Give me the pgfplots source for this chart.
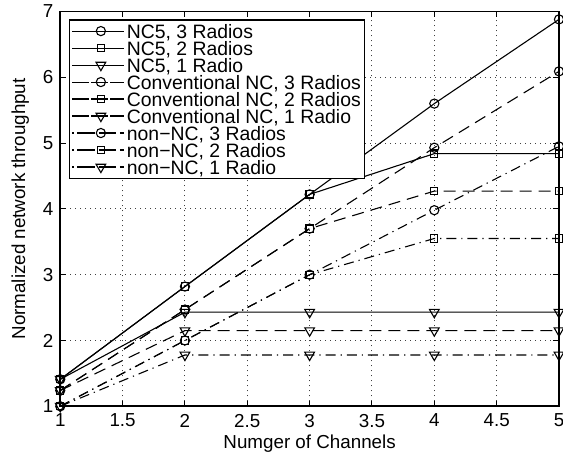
\documentclass[border=0pt]{standalone}
\usepackage{fontspec}
\setmainfont{Liberation Sans}
\usepackage{pgfplots}
\pgfplotsset{compat=1.18}
\usetikzlibrary{calc}
\begin{document}
\begin{tikzpicture}
\begin{axis}[name=ax, scale only axis, width=249.5pt, height=197.5pt,
  xmin=1, xmax=5, ymin=1, ymax=7,
  xtick={1,1.5,2,2.5,3,3.5,4,4.5,5}, ytick={1,2,3,4,5,6,7},
  xticklabels={1,1.5,2,2.5,3,3.5,4,4.5,5},
  /pgf/number format/assume math mode=true,
  tick label style={font=\fontsize{9.4}{10}\selectfont},
  label style={font=\fontsize{9.4}{10}\selectfont},
  xlabel={Numger of Channels}, ylabel={Normalized network throughput},
  xticklabel style={yshift=-0.3pt},
  xlabel style={yshift=2.8pt},
  major tick length=2.8pt, tick style={black, line width=0.5pt},
  axis line style={line width=0.8pt},
  grid=major, grid style={black!75, line width=0.5pt, dash pattern=on 0.5pt off 2pt},
  legend cell align=left,
  legend style={at={(0.018,0.98)}, anchor=north west, draw=black, line width=0.6pt,
    font=\fontsize{9.7}{9.7}\selectfont, inner xsep=1pt, inner ysep=1.3pt,
    row sep=0pt, column sep=0pt,
    nodes={inner xsep=1pt, inner ysep=0pt, text height=7.8pt, text depth=0.7pt}},
  legend image code/.code={
    \path (0pt,0pt) -- (25.85pt,0pt);
    \draw[mark repeat=2, mark phase=2, #1] plot coordinates {(2.5pt,0pt) (14.25pt,0pt) (26pt,0pt)};
  },
  every axis plot/.append style={black, line width=0.55pt},
]
% NC5
\addplot[solid, mark=o, mark size=2.3pt, mark options={solid}] coordinates {(1,1.41)(2,2.82)(3,4.22)(4,5.6)(5,6.88)};
\addplot[solid, mark=square, mark size=1.8pt, mark options={solid}] coordinates {(1,1.41)(2,2.82)(3,4.22)(4,4.84)(5,4.84)};
\addplot[solid, mark=triangle, mark size=2.8pt, mark options={solid, rotate=180}] coordinates {(1,1.41)(2,2.43)(3,2.43)(4,2.43)(5,2.43)};
% Conventional
\addplot[dash pattern=on 6pt off 3.5pt, mark=o, mark size=2.3pt, mark options={solid}] coordinates {(1,1.24)(2,2.47)(3,3.7)(4,4.93)(5,6.09)};
\addplot[dash pattern=on 6pt off 3.5pt, mark=square, mark size=1.8pt, mark options={solid}] coordinates {(1,1.24)(2,2.47)(3,3.7)(4,4.27)(5,4.27)};
\addplot[dash pattern=on 6pt off 3.5pt, mark=triangle, mark size=2.8pt, mark options={solid, rotate=180}] coordinates {(1,1.24)(2,2.15)(3,2.15)(4,2.15)(5,2.15)};
% non-NC
\addplot[dash pattern=on 5pt off 2.5pt on 0.6pt off 2.5pt, mark=o, mark size=2.3pt, mark options={solid}, legend image post style={dash phase=7.5pt}] coordinates {(1,1.0)(2,2.0)(3,3.0)(4,3.98)(5,4.95)};
\addplot[dash pattern=on 5pt off 2.5pt on 0.6pt off 2.5pt, mark=square, mark size=1.8pt, mark options={solid}, legend image post style={dash phase=7.5pt}] coordinates {(1,1.0)(2,2.0)(3,3.0)(4,3.55)(5,3.55)};
\addplot[dash pattern=on 5pt off 2.5pt on 0.6pt off 2.5pt, mark=triangle, mark size=2.8pt, mark options={solid, rotate=180}, legend image post style={dash phase=7.5pt}] coordinates {(1,1.0)(2,1.78)(3,1.78)(4,1.78)(5,1.78)};
\legend{{NC5, 3 Radios}, {NC5, 2 Radios}, {NC5, 1 Radio},
  {Conventional NC, 3 Radios}, {Conventional NC, 2 Radios}, {Conventional NC, 1 Radio},
  {non−NC, 3 Radios}, {non−NC, 2 Radios}, {non−NC, 1 Radio}}
\end{axis}
\pgfresetboundingbox
\path ($(ax.south west)+(-30.15pt,-23.75pt)$) rectangle ($(ax.north east)+(2pt,5.75pt)$);
\end{tikzpicture}
\end{document}
